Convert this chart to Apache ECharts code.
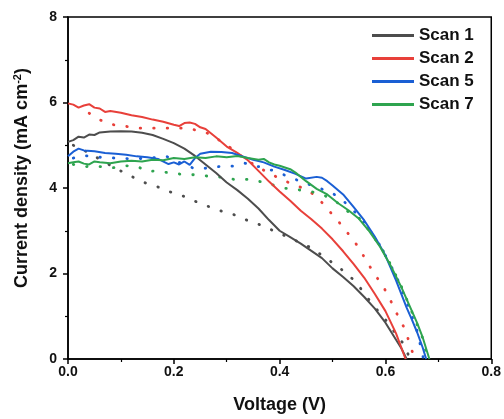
<!DOCTYPE html>
<html>
<head>
<meta charset="utf-8">
<script src="https://cdn.jsdelivr.net/npm/echarts@6/dist/echarts.min.js"></script>
<style>html,body{margin:0;padding:0;background:#fff}#c{width:504px;height:419px}</style>
</head>
<body>
<div id="c"></div>
<script>
// Scan 1
const v1 = [0,0.01,0.02,0.03,0.04,0.05,0.06,0.08,0.10,0.12,0.14,0.16,0.18,0.20,0.22,0.24,0.26,0.28,0.30,0.32,0.34,0.36,0.38,0.40,0.42,0.44,0.46,0.48,0.50,0.52,0.54,0.56,0.58,0.60,0.62,0.63,0.64];
const j1 = [5.08,5.12,5.2,5.18,5.25,5.24,5.3,5.32,5.33,5.32,5.29,5.24,5.15,5.05,4.92,4.75,4.55,4.35,4.13,3.95,3.75,3.52,3.25,3.0,2.85,2.7,2.53,2.36,2.12,1.92,1.7,1.45,1.18,0.85,0.45,0.25,0.0];
const v1r = [0.01,0.02,0.045,0.07,0.095,0.12,0.146,0.167,0.19,0.218,0.24,0.265,0.29,0.318,0.343,0.368,0.39,0.42,0.46,0.50,0.525,0.545,0.563,0.578,0.597,0.613,0.632,0.644,0.648];
const j1r = [5.0,4.95,4.78,4.6,4.43,4.27,4.12,4.04,3.92,3.81,3.69,3.57,3.46,3.36,3.22,3.12,2.99,2.83,2.60,2.25,2.02,1.79,1.48,1.24,0.97,0.70,0.39,0.08,0.0];
// Scan 2
const v2 = [0,0.01,0.02,0.03,0.04,0.05,0.06,0.07,0.08,0.10,0.12,0.14,0.16,0.18,0.20,0.21,0.22,0.23,0.24,0.25,0.26,0.28,0.30,0.32,0.34,0.36,0.38,0.40,0.42,0.44,0.46,0.48,0.50,0.52,0.54,0.56,0.58,0.60,0.62,0.638];
const j2 = [5.98,5.95,5.88,5.93,5.96,5.88,5.86,5.78,5.8,5.76,5.7,5.66,5.6,5.55,5.48,5.45,5.52,5.53,5.5,5.42,5.38,5.18,4.97,4.82,4.65,4.40,4.15,3.92,3.70,3.47,3.27,3.05,2.80,2.52,2.22,1.90,1.52,1.12,0.6,0.0];
const v2r = [0.04,0.05,0.061,0.075,0.086,0.11,0.136,0.161,0.186,0.218,0.24,0.26,0.275,0.29,0.31,0.33,0.36,0.40,0.43,0.453,0.475,0.494,0.513,0.531,0.55,0.566,0.582,0.597,0.61,0.622,0.635,0.644,0.651,0.656];
const j2r = [5.75,5.68,5.59,5.52,5.48,5.44,5.40,5.40,5.40,5.40,5.36,5.30,5.22,5.08,4.92,4.72,4.48,4.22,4.06,3.96,3.73,3.46,3.19,2.91,2.60,2.25,1.94,1.67,1.36,1.05,0.74,0.43,0.16,0.0];
// Scan 5
const v5 = [0,0.01,0.02,0.03,0.05,0.07,0.09,0.11,0.13,0.15,0.17,0.19,0.20,0.21,0.22,0.23,0.24,0.25,0.27,0.29,0.31,0.33,0.35,0.37,0.39,0.41,0.43,0.45,0.47,0.48,0.49,0.50,0.52,0.54,0.56,0.58,0.60,0.62,0.64,0.65,0.66,0.67,0.677];
const j5 = [4.74,4.85,4.92,4.88,4.86,4.82,4.8,4.78,4.74,4.72,4.68,4.56,4.6,4.55,4.62,4.54,4.7,4.8,4.85,4.84,4.82,4.74,4.66,4.6,4.5,4.42,4.33,4.22,4.26,4.24,4.16,4.06,3.85,3.55,3.24,2.86,2.42,1.84,1.2,0.92,0.62,0.28,0.0];
const v5r = [0.01,0.03,0.06,0.09,0.12,0.155,0.186,0.21,0.24,0.271,0.29,0.312,0.334,0.36,0.39,0.42,0.44,0.47,0.50,0.53,0.56,0.59,0.62,0.64,0.66,0.672];
const j5r = [4.7,4.76,4.72,4.7,4.68,4.70,4.74,4.6,4.45,4.47,4.51,4.51,4.58,4.5,4.4,4.25,4.15,4.02,3.88,3.6,3.2,2.65,1.95,1.35,0.65,0.0];
// Scan 7
const v7 = [0,0.01,0.02,0.03,0.04,0.05,0.06,0.08,0.10,0.12,0.14,0.16,0.18,0.20,0.22,0.24,0.26,0.28,0.30,0.32,0.34,0.36,0.37,0.38,0.39,0.40,0.41,0.42,0.43,0.45,0.47,0.49,0.51,0.53,0.55,0.57,0.59,0.61,0.63,0.65,0.66,0.67,0.683];
const j7 = [4.58,4.6,4.62,4.57,4.55,4.62,4.6,4.58,4.62,4.64,4.62,4.66,4.65,4.7,4.68,4.72,4.7,4.74,4.72,4.75,4.7,4.66,4.68,4.6,4.55,4.52,4.48,4.44,4.36,4.16,3.98,3.85,3.65,3.48,3.28,2.98,2.62,2.18,1.68,1.12,0.84,0.52,0.0];
const v7r = [0.01,0.03,0.055,0.083,0.11,0.13,0.149,0.17,0.193,0.224,0.246,0.268,0.29,0.315,0.343,0.375,0.406,0.44,0.465,0.487,0.51,0.528,0.55,0.57,0.60,0.63,0.65,0.67,0.68];
const j7r = [4.55,4.5,4.51,4.47,4.52,4.51,4.39,4.4,4.35,4.31,4.31,4.27,4.25,4.2,4.2,4.12,4.0,3.95,3.9,3.81,3.65,3.46,3.3,3.0,2.45,1.7,1.1,0.5,0.0];

const names = ['Scan 1','Scan 2','Scan 5','Scan 7'];
const colors = ['#4d4d4d','#e8403a','#1a5fd4','#2ea44f'];
const fwd = [[v1,j1],[v2,j2],[v5,j5],[v7,j7]];
const rev = [[v1r,j1r],[v2r,j2r],[v5r,j5r],[v7r,j7r]];
const zip = (a,b)=>a.map((x,i)=>[x,b[i]]);

const series = [];
rev.forEach((d,i)=>series.push({
  name: names[i]+' r', type:'line', data: zip(d[0],d[1]), showSymbol:false, symbol:'none',
  lineStyle:{color:colors[i], width:2.8, type:[0.5,13], cap:'round'}, itemStyle:{color:colors[i]}, z:2, silent:true
}));
fwd.forEach((d,i)=>series.push({
  name: names[i], type:'line', data: zip(d[0],d[1]), showSymbol:false, symbol:'none',
  lineStyle:{color:colors[i], width:2}, itemStyle:{color:colors[i]}, z:3
}));

const F = 'Liberation Sans, Arial, sans-serif';
const chart = echarts.init(document.getElementById('c'), null, {renderer:'canvas'});
chart.setOption({
  animation:false,
  backgroundColor:'#fff',
  grid:{left:68, right:11, top:17, bottom:59, show:true, borderColor:'#000', borderWidth:1.5},
  legend:{data:names, orient:'vertical', left:367, top:22, icon:'rect', itemWidth:42, itemHeight:3, itemGap:6,
    textStyle:{fontFamily:F, fontWeight:'bold', fontSize:17, color:'#111'}},
  xAxis:{type:'value', min:0, max:0.8, interval:0.2,
    name:'Voltage (V)', nameLocation:'middle', nameGap:37,
    nameTextStyle:{fontFamily:F, fontWeight:'bold', fontSize:18, color:'#111'},
    axisLine:{show:true, lineStyle:{color:'#000', width:1.5}},
    axisTick:{show:true, inside:false, length:5, lineStyle:{color:'#000', width:1.5}},
    minorTick:{show:true, splitNumber:2, length:3, lineStyle:{color:'#000', width:1.2}},
    splitLine:{show:false},
    axisLabel:{fontFamily:F, fontWeight:'bold', fontSize:14, color:'#111', margin:6, formatter:v=>v.toFixed(1)}},
  yAxis:{type:'value', min:0, max:8, interval:2,
    name:'{a|Current density (mA cm}{s|-2}{a|)}', nameLocation:'middle', nameGap:35, nameRotate:90,
    nameTextStyle:{fontFamily:F, fontWeight:'bold', fontSize:18, color:'#111', padding:[0,0,0,20],
      rich:{a:{fontFamily:F, fontWeight:'bold', fontSize:18, color:'#111'},
            s:{fontFamily:F, fontWeight:'bold', fontSize:11, color:'#111', padding:[0,0,10,0]}}},
    axisLine:{show:true, lineStyle:{color:'#000', width:1.5}},
    axisTick:{show:true, inside:false, length:5, lineStyle:{color:'#000', width:1.5}},
    minorTick:{show:true, splitNumber:2, length:3, lineStyle:{color:'#000', width:1.2}},
    splitLine:{show:false},
    axisLabel:{fontFamily:F, fontWeight:'bold', fontSize:14, color:'#111', margin:11}},
  series: series
});
</script>
</body>
</html>
